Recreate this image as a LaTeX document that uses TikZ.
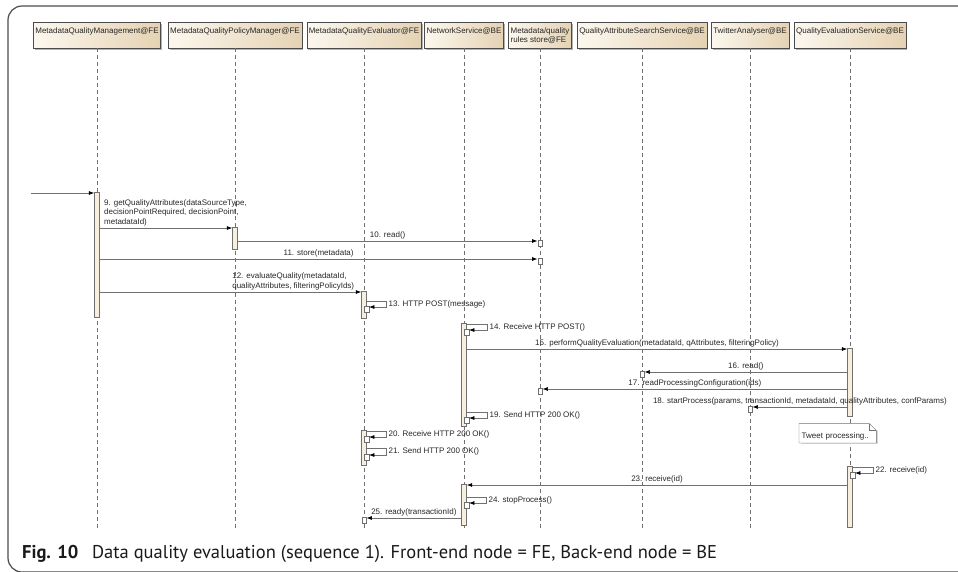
\documentclass[tikz,border=0pt]{standalone}
\usepackage{fontspec}
\setmainfont{Liberation Sans}
\newfontfamily\capfont{PT Sans}
\usepackage{tikz}
\usetikzlibrary{arrows.meta,calc,positioning,shadows}
\definecolor{framegray}{HTML}{4B4B4B}
\definecolor{linegray}{HTML}{707070}
\definecolor{headlight}{HTML}{FCF7EE}
\definecolor{headdark}{HTML}{E5D2B3}
\definecolor{barfill}{HTML}{F8EEDE}
\definecolor{textgray}{HTML}{262626}
\tikzset{%
	head/.style     = {draw=framegray, left color=headlight, right color=headdark, anchor=north, inner xsep=2pt, inner ysep=3pt, text height=8pt, text depth=12pt, font=\fontsize{8}{9.5}\selectfont, text=textgray, drop shadow={shadow xshift=1.5pt, shadow yshift=-1.5pt, fill=black!30, opacity=1}}, % lifeline head
	lifeline/.style = {draw=linegray, line width=0.6pt, dash pattern=on 4pt off 3pt},
	bar/.style      = {draw=linegray, fill=barfill, anchor=north, minimum width=5pt, inner sep=0pt}, % activation
	nest/.style     = {draw=linegray, fill=white, anchor=north west, minimum width=4.5pt, minimum height=6pt, inner sep=0pt}, % nested activation
	callbox/.style  = {draw=linegray, fill=white, anchor=north, minimum width=4.5pt, minimum height=6pt, inner sep=0pt}, % call target
	msg/.style      = {draw=linegray, line width=0.7pt, -{Latex[length=5.5pt,width=4pt,color=black]}},
	lbl/.style      = {font=\fontsize{8}{9.5}\selectfont, text=textgray, inner sep=1.5pt},
}
\begin{document}
\begin{tikzpicture}[x=1pt, y=-1pt]
	\useasboundingbox (0,0) rectangle (958,571);
	\clip (0,0) rectangle (958,571);
	\draw[framegray, line width=1.2pt, rounded corners=14pt] (990,6) -- (8,6) -- (8,572) -- (990,572);
	% lifeline heads
	\node[head] (mgmt) at (97,22) {MetadataQualityManagement@FE};
	\node[head] (policy) at (235,22) {MetadataQualityPolicyManager@FE};
	\node[head] (eval) at (364,22) {MetadataQualityEvaluator@FE};
	\node[head] (net) at (464,22) {NetworkService@BE};
	\node[head] (store) at (540,22) {\begin{tabular}[t]{@{}l@{}}Metadata/quality\\rules store@FE\end{tabular}};
	\node[head] (search) at (642,22) {QualityAttributeSearchService@BE};
	\node[head] (twitter) at (750,22) {TwitterAnalyser@BE};
	\node[head] (qes) at (850,22) {QualityEvaluationService@BE};
	\coordinate (lend) at (0,529);
	\foreach \h in {mgmt,policy,eval,net,store,search,twitter,qes}
		\draw[lifeline] (\h.south) -- (\h.south |- lend);
	% activations
	\node[bar, minimum height=125pt] (a1) at (97,192) {};
	\node[bar, minimum height=22pt] (a2) at (235,227) {};
	\node[bar, minimum height=27pt] (a3) at (364,291) {};
	\node[bar, minimum height=103pt] (a4) at (464,323) {};
	\node[bar, minimum height=68pt] (a8) at (850,348) {};
	\node[bar, minimum height=35pt] (a3b) at (364,430) {};
	\node[bar, minimum height=61pt] (a8b) at (850,466) {};
	\node[bar, minimum height=41pt] (a4b) at (464,484) {};
	% message rows
	\coordinate (src) at (31,193);
	\coordinate (m9) at (0,228);
	\coordinate (m10) at (0,241);
	\coordinate (m11) at (0,259);
	\coordinate (m12) at (0,292);
	\coordinate (m15) at (0,349);
	\coordinate (m16) at (0,372);
	\coordinate (m17) at (0,389);
	\coordinate (m18) at (0,407);
	\coordinate (m23) at (0,485);
	\coordinate (m25) at (0,518);
	% call targets
	\node[callbox] (t10) at (540,240) {};
	\node[callbox] (t11) at (540,258) {};
	\node[callbox] (t16) at (642,371) {};
	\node[callbox] (t17) at (540,388) {};
	\node[callbox] (t18) at (750,406) {};
	\node[callbox] (t25) at (364,517) {};
	% self calls
	\node[nest] (n13) at (364,306) {};
	\node[nest] (n14) at (464,329) {};
	\node[nest] (n19) at (464,417) {};
	\node[nest] (n20) at (364,436) {};
	\node[nest] (n21) at (364,454) {};
	\node[nest] (n22) at (850,472) {};
	\node[nest] (n24) at (464,502) {};
	\draw[msg] (src) -- (a1.west |- src);
	\draw[msg] (a1.east |- m9) -- node[lbl, anchor=south west, align=left, pos=0.02] {9. getQualityAttributes(dataSourceType,\\decisionPointRequired, decisionPoint,\\metadataId)} (a2.west |- m9);
	\draw[msg] (a2.east |- m10) -- node[lbl, above] {10. read()} (t10.west |- m10);
	\draw[msg] (a1.east |- m11) -- node[lbl, above] {11. store(metadata)} (t11.west |- m11);
	\draw[msg] (a1.east |- m12) -- node[lbl, anchor=south west, align=left, pos=0.5] {12. evaluateQuality(metadataId,\\qualityAttributes, filteringPolicyIds)} (a3.west |- m12);
	\draw[msg] (a3.east |- 0,301) -- ++(20,0) |- node[lbl, right, pos=0.25] {13. HTTP POST(message)} ([yshift=-1pt]n13.north east);
	\draw[msg] (a4.east |- 0,324) -- ++(21,0) |- node[lbl, right, pos=0.25] {14. Receive HTTP POST()} ([yshift=-1pt]n14.north east);
	\draw[msg] (a4.east |- m15) -- node[lbl, above] {15. performQualityEvaluation(metadataId, qAttributes, filteringPolicy)} (a8.west |- m15);
	\draw[msg] (a8.west |- m16) -- node[lbl, above] {16. read()} (t16.east |- m16);
	\draw[msg] (a8.west |- m17) -- node[lbl, above] {17. readProcessingConfiguration(ids)} (t17.east |- m17);
	\draw[msg] (a8.west |- m18) -- node[lbl, above] {18. startProcess(params, transactionId, metadataId, qualityAttributes, confParams)} (t18.east |- m18);
	\draw[msg] (a4.east |- 0,412) -- ++(21,0) |- node[lbl, right, pos=0.25] {19. Send HTTP 200 OK()} ([yshift=-1pt]n19.north east);
	\draw[msg] (a3b.east |- 0,431) -- ++(20,0) |- node[lbl, right, pos=0.25] {20. Receive HTTP 200 OK()} ([yshift=-1pt]n20.north east);
	\draw[msg] (a3b.east |- 0,448) -- ++(20,0) |- node[lbl, right, pos=0.25] {21. Send HTTP 200 OK()} ([yshift=-1pt]n21.north east);
	\draw[msg] (a8b.east |- 0,467) -- ++(21,0) |- node[lbl, right, pos=0.25] {22. receive(id)} ([yshift=-1pt]n22.north east);
	\draw[msg] (a8b.west |- m23) -- node[lbl, above] {23. receive(id)} (a4b.east |- m23);
	\draw[msg] (a4b.east |- 0,497) -- ++(20,0) |- node[lbl, right, pos=0.25] {24. stopProcess()} ([yshift=-1pt]n24.north east);
	\draw[msg] (a4b.west |- m25) -- node[lbl, above] {25. ready(transactionId)} (t25.east |- m25);
	% note
	\node[lbl, anchor=south west, fill=white, text width=72pt, align=left, inner xsep=2.5pt, inner ysep=2pt, text height=13pt, text depth=2pt, drop shadow={shadow xshift=1.5pt, shadow yshift=-1.5pt, fill=black!15, opacity=1}] (note) at (799,443) {Tweet processing..};
	\fill[white] ($(note.north east)+(-7,0)$) -- ($(note.north east)+(2,0)$) -- ($(note.north east)+(2,7)$) -- ($(note.north east)+(0,7)$) -- cycle;
	\draw[linegray] (note.south west) |- ($(note.north east)+(-7,0)$) -- ($(note.north east)+(0,7)$) -- (note.south east) -- cycle;
	\draw[linegray] ($(note.north east)+(-7,0)$) |- ($(note.north east)+(0,7)$);
	% caption
	\node[anchor=base west, inner sep=0pt, font=\capfont\fontsize{18.5}{22}\selectfont, text=black!90] (caption) at (22,558) {\textbf{Fig. 10}\hspace{0.75em}Data quality evaluation (sequence 1). Front-end node = FE, Back-end node = BE};
\end{tikzpicture}
\end{document}
